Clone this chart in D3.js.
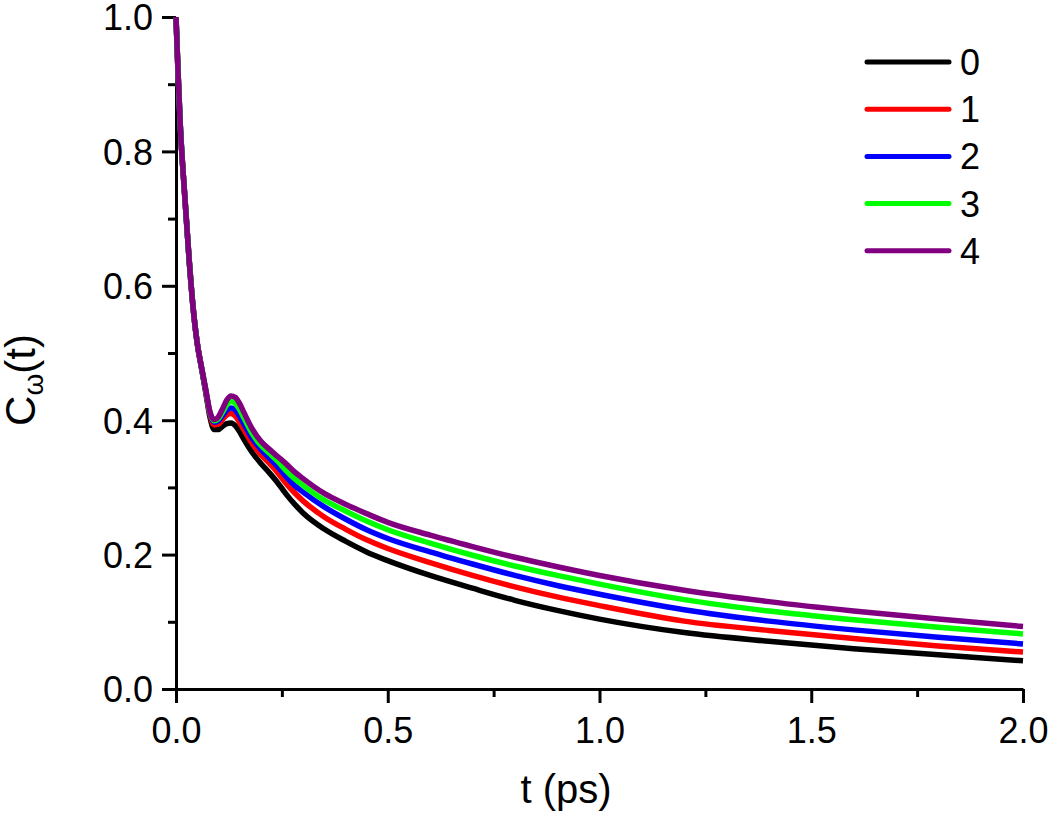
<!DOCTYPE html>
<html>
<head>
<meta charset="utf-8">
<script src="https://cdn.jsdelivr.net/npm/d3@7"></script>
<style>
  body { margin: 0; background: #fff; }
  text { font-family: "Liberation Sans", Arial, sans-serif; fill: #000; }
</style>
</head>
<body>
<div id="main"></div>
<script>
// time grid (ps)
var times = [0, 0.005, 0.01, 0.02, 0.03, 0.04, 0.05, 0.06, 0.07, 0.08, 0.09, 0.10, 0.11, 0.12, 0.13, 0.14, 0.15, 0.16, 0.18, 0.20, 0.22, 0.24, 0.26, 0.28, 0.30, 0.35, 0.40, 0.45, 0.5, 0.6, 0.7, 0.8, 0.9, 1.0, 1.2, 1.4, 1.6, 1.8, 2.0];

var series0 = [1.0, 0.915, 0.84, 0.74, 0.648, 0.570, 0.515, 0.478, 0.442, 0.405, 0.386, 0.386, 0.391, 0.395, 0.396, 0.392, 0.383, 0.372, 0.352, 0.336, 0.322, 0.307, 0.290, 0.275, 0.262, 0.238, 0.220, 0.204, 0.191, 0.169, 0.150, 0.132, 0.117, 0.104, 0.084, 0.071, 0.060, 0.051, 0.042];
var series1 = [1.0, 0.915, 0.84, 0.74, 0.648, 0.570, 0.515, 0.479, 0.444, 0.409, 0.393, 0.394, 0.401, 0.408, 0.410, 0.406, 0.397, 0.386, 0.365, 0.349, 0.336, 0.322, 0.306, 0.292, 0.280, 0.256, 0.238, 0.222, 0.209, 0.188, 0.169, 0.152, 0.137, 0.124, 0.101, 0.087, 0.075, 0.064, 0.055];
var series2 = [1.0, 0.915, 0.84, 0.74, 0.648, 0.570, 0.515, 0.479, 0.445, 0.411, 0.397, 0.399, 0.407, 0.415, 0.418, 0.415, 0.406, 0.395, 0.373, 0.357, 0.344, 0.331, 0.316, 0.303, 0.293, 0.271, 0.253, 0.237, 0.224, 0.204, 0.186, 0.169, 0.154, 0.141, 0.118, 0.101, 0.088, 0.077, 0.067];
var series3 = [1.0, 0.915, 0.84, 0.74, 0.648, 0.570, 0.515, 0.480, 0.446, 0.412, 0.399, 0.402, 0.412, 0.423, 0.428, 0.425, 0.416, 0.404, 0.380, 0.363, 0.351, 0.339, 0.325, 0.313, 0.303, 0.281, 0.265, 0.250, 0.237, 0.217, 0.199, 0.183, 0.169, 0.156, 0.133, 0.116, 0.103, 0.092, 0.082];
var series4 = [1.0, 0.915, 0.84, 0.74, 0.648, 0.570, 0.515, 0.480, 0.447, 0.413, 0.401, 0.405, 0.417, 0.430, 0.436, 0.434, 0.425, 0.412, 0.387, 0.369, 0.357, 0.346, 0.335, 0.323, 0.313, 0.291, 0.275, 0.261, 0.248, 0.229, 0.212, 0.196, 0.182, 0.169, 0.147, 0.130, 0.116, 0.104, 0.093];

var seriesNames = ["0", "1", "2", "3", "4"];
var seriesColors = ["#000000", "#ff0000", "#0000ff", "#00ff00", "#800080"];
var xTicks = [0, 0.5, 1.0, 1.5, 2.0];
var yTicks = [0, 0.2, 0.4, 0.6, 0.8, 1.0];

var allSeries = [series0, series1, series2, series3, series4];

var w = 1050, h = 823;

var svg = d3.select("#main")
  .append("svg")
  .attr("width", w)
  .attr("height", h);

var x = d3.scaleLinear().domain([0, 2]).range([176, 1023]);
var y = d3.scaleLinear().domain([0, 1]).range([689, 17]);

// minor ticks
svg.append("g")
  .attr("transform", "translate(0,689)")
  .call(d3.axisBottom(x).tickValues(d3.range(0.25, 2, 0.5)).tickSize(8).tickFormat(""))
  .call(function(g) { g.select(".domain").remove(); g.selectAll("line").attr("stroke-width", 3); });
svg.append("g")
  .attr("transform", "translate(176,0)")
  .call(d3.axisLeft(y).tickValues(d3.range(0.1, 1, 0.2)).tickSize(8).tickFormat(""))
  .call(function(g) { g.select(".domain").remove(); g.selectAll("line").attr("stroke-width", 3); });

// major axes
var xAxis = svg.append("g")
  .attr("transform", "translate(0,689)")
  .call(d3.axisBottom(x).tickValues(xTicks).tickSize(14).tickSizeOuter(0).tickPadding(6).tickFormat(d3.format(".1f")));
var yAxis = svg.append("g")
  .attr("transform", "translate(176,0)")
  .call(d3.axisLeft(y).tickValues(yTicks).tickSize(14).tickSizeOuter(0).tickPadding(9).tickFormat(d3.format(".1f")));

[xAxis, yAxis].forEach(function(g) {
  g.select(".domain").attr("stroke-width", 3);
  g.selectAll("line").attr("stroke-width", 3);
  g.selectAll("text").attr("font-size", 36).attr("font-family", "Liberation Sans, Arial, sans-serif");
});
xAxis.selectAll("text").attr("dy", "0.95em");
yAxis.selectAll("text").attr("dy", "0.36em");

// curves
var line = d3.line()
  .x(function(d, i) { return x(times[i]); })
  .y(function(d) { return y(d); })
  .curve(d3.curveMonotoneX);

svg.selectAll(".curve")
  .data(allSeries)
  .enter()
  .append("path")
  .attr("class", "curve")
  .attr("fill", "none")
  .attr("stroke", function(d, i) { return seriesColors[i]; })
  .attr("stroke-width", 5.5)
  .attr("stroke-linejoin", "round")
  .attr("d", line);

// legend
var legend = svg.selectAll(".leg")
  .data(seriesNames)
  .enter()
  .append("g")
  .attr("class", "leg")
  .attr("transform", function(d, i) { return "translate(867," + (62 + i * 47.2) + ")"; });
legend.append("line")
  .attr("x1", 0).attr("x2", 82)
  .attr("stroke", function(d, i) { return seriesColors[i]; })
  .attr("stroke-width", 5)
  .attr("stroke-linecap", "round");
legend.append("text")
  .attr("x", 93)
  .attr("dy", "0.36em")
  .attr("font-size", 36)
  .text(function(d) { return d; });

// axis titles
svg.append("text")
  .attr("x", 566)
  .attr("y", 803)
  .attr("text-anchor", "middle")
  .attr("font-size", 40)
  .text("t (ps)");

var yt = svg.append("text")
  .attr("transform", "translate(35,380) rotate(-90)")
  .attr("text-anchor", "middle")
  .attr("font-size", 42);
yt.append("tspan").text("C");
yt.append("tspan").attr("font-size", 28).attr("dy", 8).text("ω");
yt.append("tspan").attr("dy", -8).text("(t)");
</script>
</body>
</html>
